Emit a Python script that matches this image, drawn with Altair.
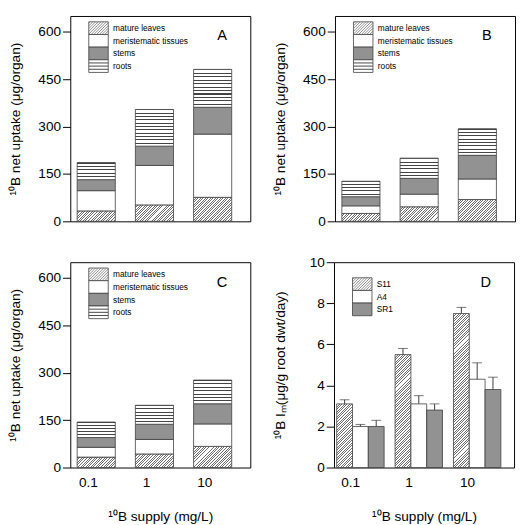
import altair as alt
import pandas as pd

supplies = ["0.1", "1", "10"]
organs = ["mature leaves", "meristematic tissues", "stems", "roots"]

a_mature = [33, 52, 76]
a_meristem = [64, 125, 200]
a_stems = [35, 61, 85]
a_roots = [54, 116, 120]

b_mature = [25, 46, 69]
b_meristem = [24, 40, 65]
b_stems = [29, 50, 75]
b_roots = [49, 64, 84]

c_mature = [33, 43, 67]
c_meristem = [31, 46, 71]
c_stems = [31, 48, 64]
c_roots = [49, 60, 75]

genotypes = ["S11", "A4", "SR1"]
d_s11 = [3.1, 5.5, 7.5]
d_s11_err = [0.2, 0.3, 0.3]
d_a4 = [2.0, 3.1, 4.3]
d_a4_err = [0.1, 0.4, 0.8]
d_sr1 = [2.0, 2.8, 3.8]
d_sr1_err = [0.3, 0.3, 0.6]

W, H = 185, 211
FONT = "Liberation Sans"
DIAG_LINE = "#6e6e6e"
ROOT_LINE = "#444444"
GRAY = "#929292"
STROKE = "#3c3c3c"

_gid = [0]


def new_id(tag):
    _gid[0] += 1
    return f"pat_{tag}_{_gid[0]}"


def stripe_stops(n, frac, line, bg):
    stops = []
    for i in range(n):
        a = i / n
        b = (i + frac) / n
        c = (i + 1) / n
        stops += [
            {"offset": round(a, 5), "color": line},
            {"offset": round(b, 5), "color": line},
            {"offset": round(b, 5), "color": bg},
            {"offset": round(c, 5), "color": bg},
        ]
    return stops


def diag(w, h, tag, spacing=2.6):
    n = max(2, round((w + h) / spacing))
    k = (w + h) / (w * w + h * h)
    return {"gradient": "linear", "id": new_id(tag), "x1": 0, "y1": 0,
            "x2": round(w * k, 5), "y2": round(h * k, 5),
            "stops": stripe_stops(n, 0.38, DIAG_LINE, "white")}


def horiz(h, tag, spacing=3.4):
    n = max(2, round(h / spacing))
    return {"gradient": "linear", "id": new_id(tag), "x1": 0, "y1": 0, "x2": 0, "y2": 1,
            "stops": stripe_stops(n, 0.3, ROOT_LINE, "white")}


def swatch_lines(d, kind, x0, y0, w=20, h=13):
    """Hatching for a legend swatch, drawn with thin rules."""
    layers = []
    if kind == "diag":
        s = 2.8
        c = x0 + y0 + s / 2
        while c < x0 + y0 + w + h:
            xa = max(x0, c - (y0 + h))
            xb = min(x0 + w, c - y0)
            if xb - xa > 0.6:
                layers.append(d.mark_rule(color=DIAG_LINE, strokeWidth=0.8).encode(
                    x=alt.value(xa), y=alt.value(c - xa),
                    x2=alt.value(xb), y2=alt.value(c - xb)))
            c += s
    elif kind == "horiz":
        for i in range(1, 4):
            yy = y0 + h * i / 4
            layers.append(d.mark_rule(color=ROOT_LINE, strokeWidth=1).encode(
                x=alt.value(x0), x2=alt.value(x0 + w), y=alt.value(yy)))
    return layers


def legend_rows(labels, kinds, x0=19, y0=6, rh=13):
    layers = []
    for k, (lab, kind) in enumerate(zip(labels, kinds)):
        d = alt.Chart(pd.DataFrame({"label": [lab]}))
        fill = GRAY if kind == "gray" else "white"
        layers.append(d.mark_bar(fill=fill, stroke=STROKE, strokeWidth=0.8).encode(
            x=alt.value(x0), x2=alt.value(x0 + 20),
            y=alt.value(y0 + rh * k), y2=alt.value(y0 + rh * (k + 1))))
        layers += swatch_lines(d, kind, x0, y0 + rh * k, 20, rh)
        layers.append(d.mark_text(align="left", baseline="middle", fontSize=8.5, font=FONT,
                                  color="black").encode(
            x=alt.value(x0 + 25), y=alt.value(y0 + rh * k + rh / 2), text="label:N"))
    return layers


def letter_layer(letter):
    return alt.Chart(pd.DataFrame({"t": [letter]})).mark_text(
        fontSize=15, font=FONT, color="black").encode(
        x=alt.value(156), y=alt.value(20), text="t:N")


def stack_panel(letter, mature, meristem, stems, roots, show_x):
    vals = [mature, meristem, stems, roots]
    df = pd.DataFrame([
        {"supply": s, "organ": o, "order": k, "value": vals[k][i]}
        for k, o in enumerate(organs) for i, s in enumerate(supplies)
    ])
    pi, po, al = 0.345, 0.219, 0.27
    bw = W / (3 - pi + 2 * po) * (1 - pi)
    ppu = H / 650.0
    if show_x:
        xaxis = alt.Axis(title="¹⁰B supply (mg/L)", labelAngle=0, ticks=False, domain=False,
                         labelPadding=9, titlePadding=20, labelOffset=-8)
    else:
        xaxis = alt.Axis(title=None, labels=False, ticks=False, domain=False)
    xenc = alt.X("supply:N", sort=supplies,
                 scale=alt.Scale(domain=supplies, paddingInner=pi, paddingOuter=po, align=al),
                 axis=xaxis)
    yscale = alt.Scale(domain=[0, 650], nice=False, zero=True)
    yaxis = alt.Axis(values=[0, 150, 300, 450, 600], title="¹⁰B net uptake (μg/organ)",
                     tickSize=8, labelPadding=2, titlePadding=16)
    base = alt.Chart(df).transform_stack(
        stack="value", groupby=["supply"],
        sort=[alt.SortField("order", order="ascending")], as_=["y0", "y1"])

    def bars(cond, fill):
        return base.transform_filter(cond).mark_bar(
            fill=fill, stroke=STROKE, strokeWidth=0.8).encode(
            x=xenc, y=alt.Y("y0:Q", scale=yscale, axis=yaxis), y2="y1:Q")

    layers = []
    for i, s in enumerate(supplies):
        layers.append(bars(f"datum.organ == 'mature leaves' && datum.supply == '{s}'",
                           diag(bw, mature[i] * ppu, letter + "leaf")))
    layers.append(bars("datum.organ == 'meristematic tissues'", "white"))
    layers.append(bars("datum.organ == 'stems'", GRAY))
    for i, s in enumerate(supplies):
        layers.append(bars(f"datum.organ == 'roots' && datum.supply == '{s}'",
                           horiz(roots[i] * ppu, letter + "root")))
    layers += legend_rows(organs, ["diag", "white", "gray", "horiz"])
    layers.append(letter_layer(letter))
    return alt.layer(*layers).properties(width=W, height=H)


def uptake_panel():
    rows = []
    for g, v, e in [("S11", d_s11, d_s11_err), ("A4", d_a4, d_a4_err), ("SR1", d_sr1, d_sr1_err)]:
        for i, s in enumerate(supplies):
            rows.append({"supply": s, "geno": g, "value": v[i], "err": e[i]})
    df = pd.DataFrame(rows)
    pi, po, al = 0.188, 0.136, 0.17
    gw = W / (3 - pi + 2 * po) * (1 - pi)
    sw = gw / 3
    ppu = H / 10.0
    xenc = alt.X("supply:N", sort=supplies,
                 scale=alt.Scale(domain=supplies, paddingInner=pi, paddingOuter=po, align=al),
                 axis=alt.Axis(title="¹⁰B supply (mg/L)", labelAngle=0, ticks=False, domain=False,
                               labelPadding=9, titlePadding=20, labelOffset=-10))
    xoff = alt.XOffset("geno:N", sort=genotypes, scale=alt.Scale(domain=genotypes))
    yscale = alt.Scale(domain=[0, 10], nice=False)
    yaxis = alt.Axis(values=[0, 2, 4, 6, 8, 10], title="¹⁰B Iₘ(μg/g root dwt/day)",
                     tickSize=8, labelPadding=2, titlePadding=22)
    base = alt.Chart(df)

    def bars(cond, fill):
        return base.transform_filter(cond).mark_bar(
            fill=fill, stroke=STROKE, strokeWidth=0.8).encode(
            x=xenc, xOffset=xoff, y=alt.Y("value:Q", scale=yscale, axis=yaxis))

    layers = []
    for i, s in enumerate(supplies):
        layers.append(bars(f"datum.geno == 'S11' && datum.supply == '{s}'",
                           diag(sw, d_s11[i] * ppu, "Dleaf")))
    layers.append(bars("datum.geno == 'A4'", "white"))
    layers.append(bars("datum.geno == 'SR1'", GRAY))
    err = base.transform_calculate(hi="datum.value + datum.err")
    layers.append(err.mark_rule(color=STROKE, strokeWidth=1).encode(
        x=xenc, xOffset=xoff, y=alt.Y("value:Q", scale=yscale, axis=yaxis), y2="hi:Q"))
    layers.append(err.mark_tick(color=STROKE, size=10, thickness=1).encode(
        x=xenc, xOffset=xoff, y=alt.Y("hi:Q", scale=yscale, axis=yaxis)))
    layers += legend_rows(genotypes, ["diag", "white", "gray"], y0=16)
    layers.append(letter_layer("D"))
    return alt.layer(*layers).properties(width=W, height=H)


pA = stack_panel("A", a_mature, a_meristem, a_stems, a_roots, False)
pB = stack_panel("B", b_mature, b_meristem, b_stems, b_roots, False)
pC = stack_panel("C", c_mature, c_meristem, c_stems, c_roots, True)
pD = uptake_panel()

chart = alt.vconcat(
    alt.hconcat(pA, pB, spacing=22),
    alt.hconcat(pC, pD, spacing=22),
    spacing=26,
).properties(
    padding={"left": 0, "top": 0, "right": 0, "bottom": 0}
).configure_view(
    stroke="black", strokeWidth=1
).configure_axis(
    labelFont=FONT, titleFont=FONT, labelFontSize=14, titleFontSize=14,
    titleFontWeight="normal", grid=False, domain=False,
    tickColor="black", labelColor="black", titleColor="black"
).configure_concat(spacing=20)

chart.save("out.html", embed_options={"renderer": "svg", "actions": False})
